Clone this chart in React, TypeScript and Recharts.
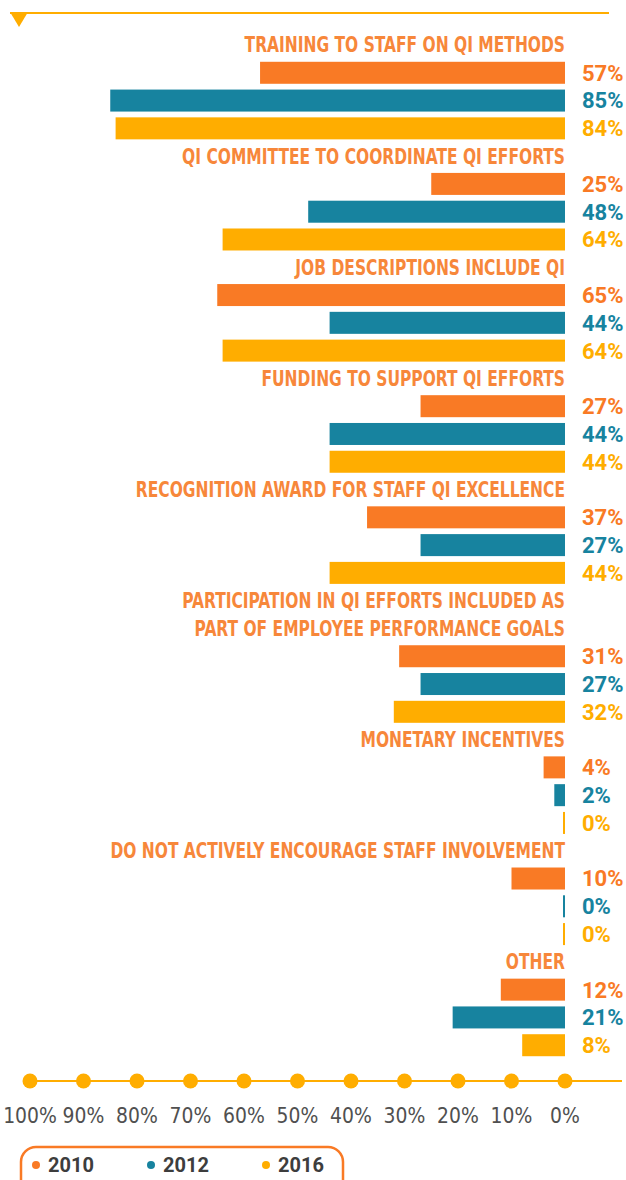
import React from 'react';
import { BarChart, Bar, XAxis, YAxis, LabelList } from 'recharts';

// Survey items (a two-line item is stored as two lines)
const categories: string[][] = [
  ['TRAINING TO STAFF ON QI METHODS'],
  ['QI COMMITTEE TO COORDINATE QI EFFORTS'],
  ['JOB DESCRIPTIONS INCLUDE QI'],
  ['FUNDING TO SUPPORT QI EFFORTS'],
  ['RECOGNITION AWARD FOR STAFF QI EXCELLENCE'],
  ['PARTICIPATION IN QI EFFORTS INCLUDED AS', 'PART OF EMPLOYEE PERFORMANCE GOALS'],
  ['MONETARY INCENTIVES'],
  ['DO NOT ACTIVELY ENCOURAGE STAFF INVOLVEMENT'],
  ['OTHER'],
];

const years = ['2010', '2012', '2016'];
const values2010 = [57, 25, 65, 27, 37, 31, 4, 10, 12];
const values2012 = [85, 48, 44, 44, 27, 27, 2, 0, 21];
const values2016 = [84, 64, 64, 44, 44, 32, 0, 0, 8];
const tickValues = [100, 90, 80, 70, 60, 50, 40, 30, 20, 10, 0];

const seriesValues = [values2010, values2012, values2016];
const seriesColors = ['#F97A25', '#17839F', '#FFAD00'];
const TITLE_COLOR = '#F7873A';
const AXIS_COLOR = '#FFAD00';
const NARROW = '"Liberation Sans Narrow", "DejaVu Sans Condensed", Roboto, sans-serif';
const ROUND = 'Roboto, "Noto Sans", sans-serif';

type Row = { key: string; title?: string; [k: string]: any };

// One category row per title line and one per year bar
const rows: Row[] = [];
categories.forEach((lines, i) => {
  lines.forEach((line, j) => rows.push({ key: `t${i}-${j}`, title: line }));
  years.forEach((yr, s) => rows.push({ key: `b${i}-${yr}`, ['y' + yr]: seriesValues[s][i] }));
});
const titleByKey = new Map(rows.map((r) => [r.key, r.title]));

const makeShape = (dataKey: string) => (props: any) => {
  const { x, y, width, height, fill, payload } = props;
  if (payload == null || payload[dataKey] == null) return null;
  const right = Math.max(x, x + width);
  const w = Math.max(Math.abs(width), 2);
  return <rect x={right - w} y={y} width={w} height={height} fill={fill} />;
};

const makeLabel = (color: string) => (props: any) => {
  const { value } = props;
  if (value == null) return null;
  const vb = props.viewBox ?? props;
  const x = Number(vb.x ?? props.x);
  const y = Number(vb.y ?? props.y);
  const width = Number(vb.width ?? props.width ?? 0);
  const height = Number(vb.height ?? props.height ?? 0);
  const right = Math.max(x, x + width);
  return (
    <text
      x={right + 17}
      y={y + height / 2}
      dy="0.36em"
      fill={color}
      fontFamily={ROUND}
      fontWeight={700}
      fontSize={22}
    >
      {`${value}%`}
    </text>
  );
};

// Item titles: condensed bold caps, right-aligned to the zero line
const TitleTick = (props: any) => {
  const { x, y, payload } = props;
  const title = titleByKey.get(payload?.value) ?? rows[payload?.index]?.title;
  if (!title) return null;
  return (
    <text
      transform={`translate(${x},${y}) scale(0.82,1)`}
      dy="0.36em"
      textAnchor="end"
      fill={TITLE_COLOR}
      fontFamily={NARROW}
      fontWeight={700}
      fontSize={21}
    >
      {title}
    </text>
  );
};

const AxisTick = (props: any) => {
  const { x, y, payload } = props;
  return (
    <g>
      <circle cx={x} cy={y + 22} r={7.5} fill={AXIS_COLOR} />
      <text
        transform={`translate(${x},${y + 56}) scale(0.95,1)`}
        dy="0.36em"
        textAnchor="middle"
        fill="#505050"
        fontFamily={NARROW}
        fontSize={22}
      >
        {`${payload.value}%`}
      </text>
    </g>
  );
};

const legendX = [36, 151, 266];

export default function App() {
  return (
    <div
      style={{
        position: 'absolute',
        left: 0,
        top: 0,
        width: 626,
        height: 1180,
        background: '#fff',
        overflow: 'hidden',
      }}
    >
      <svg width={626} height={1180} style={{ position: 'absolute', left: 0, top: 0 }}>
        <line x1={10} y1={13} x2={609} y2={13} stroke={AXIS_COLOR} strokeWidth={2} />
        <polygon points="10,12 28,12 19,27" fill={AXIS_COLOR} />
        <line x1={31} y1={1081} x2={622} y2={1081} stroke={AXIS_COLOR} strokeWidth={2} />
      </svg>
      <div style={{ position: 'absolute', left: 0, top: 0 }}>
        <BarChart
          width={626}
          height={1180}
          layout="vertical"
          data={rows}
          margin={{ top: 31, right: 60, bottom: 0, left: 30 }}
          barSize={22}
        >
          <XAxis
            type="number"
            domain={[0, 100]}
            reversed
            ticks={tickValues}
            interval={0}
            axisLine={false}
            tickLine={false}
            tickSize={0}
            tickMargin={0}
            height={121}
            tick={<AxisTick />}
          />
          <YAxis
            type="category"
            dataKey="key"
            orientation="right"
            width={1}
            axisLine={false}
            tickLine={false}
            tickSize={0}
            tickMargin={0}
            interval={0}
            tick={<TitleTick />}
          />
          {years.map((yr, s) => (
            <Bar
              key={yr}
              name={yr}
              dataKey={'y' + yr}
              stackId="all"
              fill={seriesColors[s]}
              isAnimationActive={false}
              shape={makeShape('y' + yr)}
            >
              <LabelList dataKey={'y' + yr} content={makeLabel(seriesColors[s])} />
            </Bar>
          ))}
        </BarChart>
      </div>
      <svg width={626} height={1180} style={{ position: 'absolute', left: 0, top: 0 }}>
        <rect
          x={21}
          y={1147}
          width={322}
          height={60}
          rx={15}
          fill="none"
          stroke="#F97A25"
          strokeWidth={2.5}
        />
        {years.map((yr, s) => (
          <g key={yr}>
            <circle cx={legendX[s]} cy={1165} r={4} fill={seriesColors[s]} />
            <text
              x={legendX[s] + 12}
              y={1165}
              dy="0.36em"
              fill="#3d3d3d"
              fontFamily={ROUND}
              fontWeight={700}
              fontSize={20}
            >
              {yr}
            </text>
          </g>
        ))}
      </svg>
    </div>
  );
}
